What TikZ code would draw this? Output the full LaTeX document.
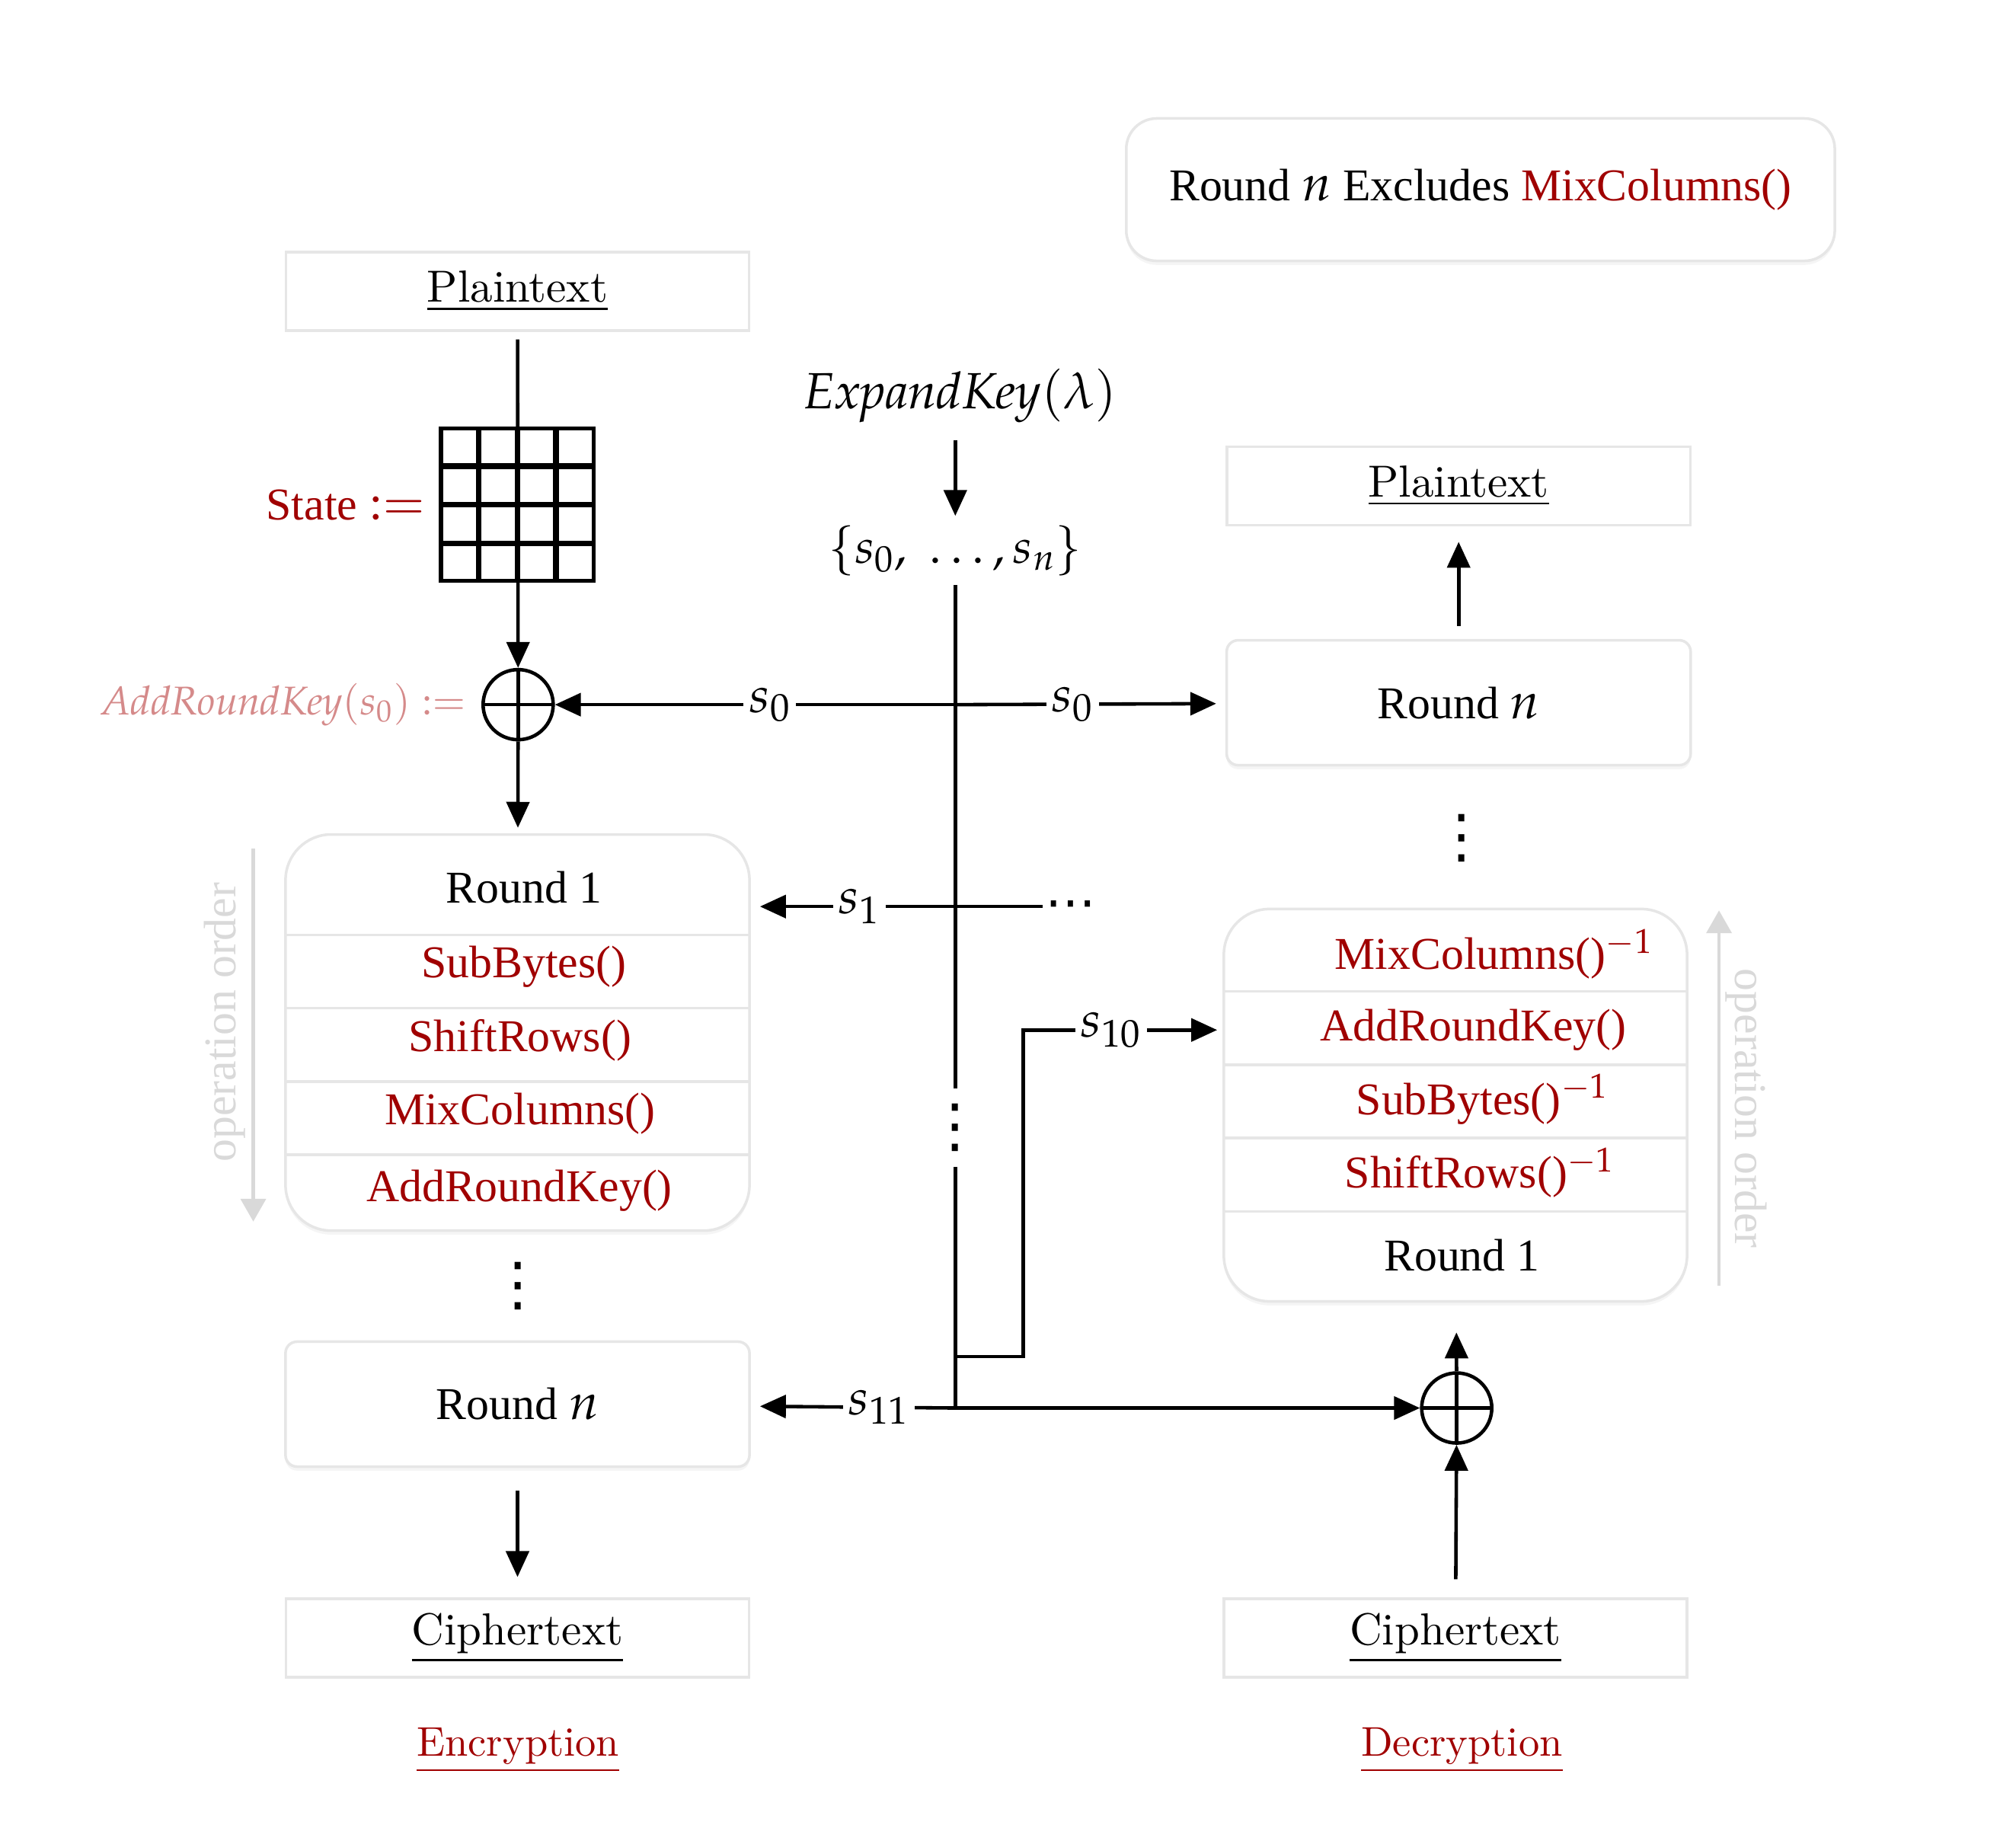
\documentclass[tikz,border=0pt]{standalone}
\usepackage{mathpazo}
\usepackage[no-math]{fontspec}
\renewcommand{\rmdefault}{lmr}
\DeclareMathAlphabet{\mathit}{OT1}{ppl}{m}{it}
\newfontfamily\timesfont{Liberation Serif}
\newfontfamily\dotsfont{DejaVu Sans}
\usetikzlibrary{arrows.meta,positioning,calc,shadows}

\definecolor{fnred}{HTML}{A00000}
\definecolor{fnpink}{HTML}{D58A8A}
\definecolor{boxgray}{HTML}{E6E6E6}
\definecolor{ordergray}{HTML}{D9D9D9}

% Latin Modern at its 10pt design, blown up
\newcommand{\cmbig}[2]{{\fontsize{10}{12}\selectfont\scalebox{#1}{#2}}}

\tikzset{
  wire/.style={line width=1.3pt},
  txtbox/.style={draw=boxgray,line width=1pt,minimum width=6.08cm,minimum height=1.03cm,inner sep=0pt},
  roundbox/.style={draw=boxgray,line width=1pt,fill=white,inner sep=0pt,
    drop shadow={opacity=0.08,shadow xshift=0pt,shadow yshift=-1.5pt}},
  smallbox/.style={roundbox,rounded corners=0.15cm,minimum width=6.09cm,minimum height=1.64cm},
  bigbox/.style={roundbox,rounded corners=0.6cm,minimum width=6.09cm,minimum height=5.2cm},
  note/.style={roundbox,rounded corners=0.4cm,minimum width=9.3cm,minimum height=1.87cm},
  sep/.style={draw=boxgray,line width=1pt},
  opname/.style={font=\fontsize{17}{20}\selectfont\timesfont,text=fnred,inner sep=1pt},
  rname/.style={font=\fontsize{17}{20}\selectfont\timesfont,inner sep=1pt},
  mathtxt/.style={font=\fontsize{19}{23}\selectfont},
  lbl/.style={mathtxt,fill=white,inner sep=2pt},
  vdot/.style={font=\fontsize{22}{26}\selectfont\dotsfont,inner sep=1pt},
  xor/.style={circle,draw,line width=1.3pt,minimum size=0.92cm,inner sep=0pt,
    path picture={\draw[line width=1.3pt] (path picture bounding box.north) -- (path picture bounding box.south)
      (path picture bounding box.west) -- (path picture bounding box.east);}},
  cell/.style={draw,line width=1.5pt,fill=white},
  order/.style={draw=ordergray,line width=1.2pt,-{Triangle[length=0.3cm,width=0.33cm]}},
  ordertxt/.style={text=ordergray,font=\fontsize{17}{20}\selectfont\timesfont}
}

\begin{document}
\begin{tikzpicture}[x=0.01688cm,y=-0.01688cm,
  >={Triangle[length=0.34cm,width=0.3cm]},
  font=\fontsize{17}{20}\selectfont]
  \useasboundingbox (0,0) rectangle (1568,1419);

  % note
  \node[note] (note) at (1151.5,147.5) {\timesfont Round {\fontsize{19}{23}\selectfont$n$} Excludes \textcolor{fnred}{MixColumns()}};

  % encryption side
  \node[txtbox] (ptE) at (402.5,226.5) {\cmbig{1.68}{\underline{Plaintext}}};
  \node[minimum size=2.03cm,inner sep=0pt] (state) at (403,393) {};
  \node[xor] (xorE) at (403,548) {};
  \node[bigbox] (encR1) at (402.5,803) {};
  \node[rname]  (eR1)    at (407.5,690) {Round 1};
  \node[opname] (eSub)   at (407.5,752) {SubBytes()};
  \node[opname] (eShift) at (404.5,809) {ShiftRows()};
  \node[opname] (eMix)   at (404.5,866) {MixColumns()};
  \node[opname] (eARK)   at (404,926)   {AddRoundKey()};
  \foreach \y in {727,784,841,898}
    \draw[sep] (222,\y) -- (583,\y);
  \node[vdot] (edots) at (403,1000) {⋮};
  \node[smallbox,rname] (encRn) at (402.5,1092) {Round {\fontsize{19}{23}\selectfont$n$}};
  \node[txtbox] (ctE) at (402.5,1274) {\cmbig{1.68}{\underline{Ciphertext}}};
  \node (enc) at (403,1361) {\color{fnred}\cmbig{1.55}{\underline{Encryption}}};

  \node[text=fnred,left=0.12cm of state,font=\fontsize{17}{20}\selectfont\timesfont,inner sep=2pt] (statelbl) {State {\fontsize{19}{23}\selectfont$:=$}};
  \node[text=fnpink,left=0.12cm of xorE,inner sep=2pt,font=\fontsize{15}{18}\selectfont] (arklbl) {$\mathit{AddRoundKey}(s_0) :=$};

  % decryption side
  \node[txtbox] (ptD) at (1134.5,378) {\cmbig{1.68}{\underline{Plaintext}}};
  \node[smallbox,rname] (decRn) at (1134.5,546.5) {Round {\fontsize{19}{23}\selectfont$n$}};
  \node[vdot] (ddots) at (1137,652) {⋮};
  \node[bigbox,minimum width=6.08cm,minimum height=5.15cm] (decR1) at (1132,859.5) {};
  \node[opname] (dMix)   at (1162,742) {MixColumns()$^{-1}$};
  \node[opname] (dARK)   at (1146,801) {AddRoundKey()};
  \node[opname] (dSub)   at (1153,855) {SubBytes()$^{-1}$};
  \node[opname] (dShift) at (1151,912) {ShiftRows()$^{-1}$};
  \node[rname]  (dR1)    at (1137,976) {Round 1};
  \foreach \y in {771,828,885,942}
    \draw[sep] (952,\y) -- (1312,\y);
  \node[xor] (xorD) at (1133,1095) {};
  \node[txtbox] (ctD) at (1132,1274) {\cmbig{1.68}{\underline{Ciphertext}}};
  \node (dec) at (1137,1361) {\color{fnred}\cmbig{1.55}{\underline{Decryption}}};

  % key schedule
  \node[mathtxt] (ek) at (747,308) {$\mathit{ExpandKey}(\lambda)$};
  \node[font=\fontsize{18}{22}\selectfont] (keys) at (743,428) {$\{s_0,\ \ldots,s_n\}$};
  \node[vdot,inner sep=0pt,minimum height=1.01cm] (kdots) at (743,877) {⋮};
  \node[font=\fontsize{19}{23}\selectfont\dotsfont,inner sep=1pt] (rdots) at (833,708) {⋯};
  \coordinate (k0) at (743,548);
  \coordinate (k1) at (743,705);
  \coordinate (k10) at (743,1055);
  \coordinate (k11) at (743,1095);

  % wires
  \draw[wire,->,shorten <=0.1cm] (ptE) -- (xorE);
  \foreach \i in {0,...,3}
    \foreach \j in {0,...,3}
      \draw[cell] ($(state.north west)+(\i*30+0.6,\j*30+0.6)$) rectangle ++(28.8,28.8);
  \draw[wire,->,shorten >=0.07cm] (xorE) -- (encR1);
  \draw[wire,->,shorten <=0.3cm,shorten >=0.27cm] (encRn) -- (ctE);
  \draw[wire,->,shorten <=0.17cm,shorten >=0.2cm] (decRn) -- (ptD);
  \draw[wire,->,shorten >=0.39cm] (xorD) -- (decR1);
  \draw[wire,->,shorten <=0.24cm] (ctD) -- (xorD);
  \draw[wire,->,shorten <=0.1cm] (keys |- ek.south) -- (keys);
  \draw[wire] (keys) -- (kdots);
  \draw[wire] (kdots) -- (k11);

  \draw[wire,->] (k0) -- node[pos=0.463,lbl] {$s_0$} (xorE);
  \draw[wire,->,shorten >=0.12cm] (k0) -- node[pos=0.434,lbl] {$s_0$} (decRn);
  \draw[wire,->,shorten >=0.12cm] (k1) -- node[pos=0.47,lbl] {$s_1$} (k1 -| encR1.east);
  \draw[wire] (k1) -- (k1 -| rdots.west);
  \draw[wire,->,shorten >=0.07cm] (k10) -- ++(53,0) |- node[pos=0.72,lbl] {$s_{10}$} (dARK -| decR1.west);
  \draw[wire,->,shorten >=0.12cm] (k11) -- node[pos=0.375,lbl] {$s_{11}$} (encRn);
  \draw[wire,->] (k11) -- (xorD);

  % operation order
  \draw[order] (197,660) -- (197,950);
  \node[ordertxt,rotate=90] (eorder) at (175,795) {operation order};
  \draw[order] (1337,1000) -- (1337,708);
  \node[ordertxt,rotate=-90] (dorder) at (1358,862) {operation order};
\end{tikzpicture}
\end{document}
